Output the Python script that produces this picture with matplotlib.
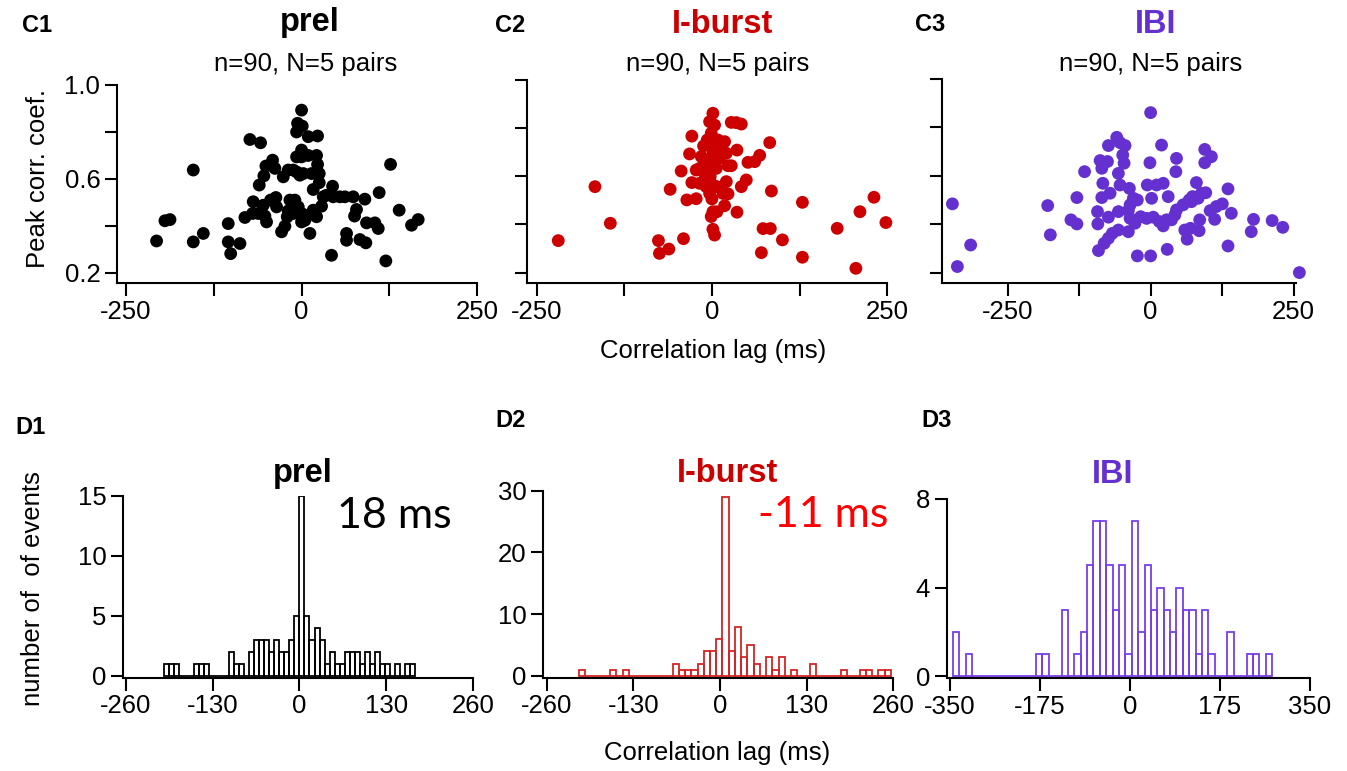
import numpy as np
import matplotlib
matplotlib.use('Agg')
from matplotlib import pyplot as plt

plt.rcParams['font.family'] = ['Liberation Sans', 'DejaVu Sans']
plt.rcParams['axes.unicode_minus'] = False

# C panels: peak correlation coefficient vs correlation lag (ms)
prel_lag = [-206.6, -194.7, -187.5, -154.3, -154.3, -140, -104.5, -104.5, -101, -87.8,
            -80.7, -73.6, -58.4, -68.9, -61.7, -54.6, -52.2, -49.9, -60.3, -53.7,
            -50.8, -41.3, -38, -36.6, -26.1, -20.4, -28.5, -23.7, -19, -16.6,
            -11.9, -12.8, -19, -7.1, -2.4, 0, -5.7, 1, -7.1, 9.5,
            22.8, 0, 0, 9.5, 21.4, 22.8, 2.4, 14.2, 25.2, 16.6,
            -4.7, 0, 0, 4.7, 9.5, 11.9, 21.4, 28.5, 30.9, 44.2,
            45.1, 54.6, 61.7, 73.6, 90.2, 75.5, 78.3, 64.1, 64.1, 83.1,
            91.6, 92.6, 104.5, 109.3, 110.6, 42.7, 120.1, 126.8, 139.1, 156.7,
            166.2, -69.8, -44.2, -35.6, -11.9, -9.5, 16.6, 25.2, -7.1, 35.0]
prel_coef = [0.336, 0.422, 0.427, 0.638, 0.332, 0.368, 0.41, 0.332, 0.282, 0.325,
             0.436, 0.768, 0.754, 0.503, 0.453, 0.488, 0.442, 0.417, 0.574, 0.613,
             0.655, 0.68, 0.645, 0.521, 0.609, 0.439, 0.375, 0.399, 0.638, 0.51,
             0.638, 0.493, 0.464, 0.63, 0.616, 0.893, 0.837, 0.825, 0.8, 0.78,
             0.783, 0.723, 0.694, 0.7, 0.7, 0.662, 0.623, 0.623, 0.584, 0.555,
             0.481, 0.453, 0.417, 0.424, 0.446, 0.368, 0.439, 0.484, 0.524, 0.569,
             0.524, 0.524, 0.524, 0.524, 0.514, 0.442, 0.47, 0.368, 0.339, 0.342,
             0.328, 0.413, 0.413, 0.389, 0.542, 0.275, 0.251, 0.662, 0.467, 0.403,
             0.427, 0.453, 0.51, 0.481, 0.453, 0.51, 0.467, 0.623, 0.694, 0.53]

burst_lag = [-219, -166.7, -144.8, -76.2, -74.8, -61.4, -59.5, -40.5, -43.8, -35.7,
             -22.4, -28.6, -31.9, -28.6, -17.6, -15.2, -11.9, -17.6, -10.5, -8.1,
             -3.3, 1.4, -3.3, 3.8, -1, -3.3, 3.8, 1.4, 6.2, -2.4,
             1.4, -3.3, 0, 10.9, 18.1, 20.5, 22.9, 27.6, 20.5, 22.9,
             18.1, 1.4, -1, 7.1, 1.4, 3.8, 27.6, 34.8, 41.9, 35.7,
             35.7, 41.9, 49, 51.4, 61, 68.1, 82.4, 84.8, 70.5, 72.9,
             83.3, 100.5, 129, 129, 178.6, 205.2, 211, 231, 248, -6.7,
             8.6, 13.3, -8.1, 7.1, -4.3, 10.9, -22.4, 15.7]
burst_coef = [0.333, 0.557, 0.405, 0.333, 0.28, 0.298, 0.546, 0.341, 0.622, 0.502,
              0.507, 0.574, 0.693, 0.767, 0.571, 0.682, 0.726, 0.633, 0.612, 0.647,
              0.668, 0.862, 0.827, 0.813, 0.779, 0.737, 0.723, 0.696, 0.633, 0.599,
              0.564, 0.529, 0.506, 0.723, 0.744, 0.696, 0.644, 0.644, 0.578, 0.527,
              0.478, 0.453, 0.433, 0.453, 0.38, 0.356, 0.824, 0.823, 0.817, 0.709,
              0.451, 0.557, 0.585, 0.658, 0.661, 0.687, 0.74, 0.539, 0.283, 0.383,
              0.383, 0.336, 0.492, 0.264, 0.384, 0.218, 0.453, 0.513, 0.408, 0.751,
              0.751, 0.696, 0.557, 0.557, 0.626, 0.675, 0.626, 0.529]

ibi_lag = [-346.3, -314.4, -337.6, -179.8, -175.2, -128.8, -139.2, -128.8, -115.4, -91.1,
           -81.2, -73.7, -67, -56.3, -92.2, -92.8, -85.3, -70.8, -83.5, -85.3,
           -88.2, -75.4, -73.7, -59.2, -53.4, -44.7, -48.7, -46.4, -56.3, -53.4,
           -73.7, -56.3, -37.1, -35.9, -30.2, -23.2, -38.9, -35.9, -27.3, -38.9,
           -23.2, 0, -1.2, -5.8, 10.4, 22, 1.7, -17.4, -7, 4.6,
           15.1, 22, 27.8, 36.5, 42.3, 45.2, 56.8, 67.3, 73.1, 83,
           88.7, 96.3, 80, 30.7, 19.1, 0, 29, 45.2, 44.1, 94.6,
           106.2, 94.6, 59.7, 63.8, 69.6, 85.8, 84.7, 104, 111.9, 125.3,
           135.2, 141, 135.2, 179.8, 175.8, 212.3, 230.9, 259.9, 114.8, 71.3]
ibi_coef = [0.484, 0.314, 0.225, 0.477, 0.356, 0.51, 0.418, 0.401, 0.617, 0.291,
            0.321, 0.342, 0.362, 0.376, 0.401, 0.452, 0.51, 0.528, 0.569, 0.631,
            0.663, 0.659, 0.725, 0.759, 0.737, 0.725, 0.686, 0.652, 0.61, 0.562,
            0.429, 0.452, 0.548, 0.48, 0.507, 0.5, 0.456, 0.424, 0.404, 0.369,
            0.269, 0.861, 0.654, 0.562, 0.562, 0.569, 0.507, 0.431, 0.424, 0.429,
            0.411, 0.393, 0.418, 0.418, 0.438, 0.459, 0.48, 0.5, 0.514, 0.507,
            0.528, 0.53, 0.572, 0.514, 0.727, 0.269, 0.296, 0.672, 0.617, 0.709,
            0.679, 0.654, 0.376, 0.338, 0.383, 0.418, 0.373, 0.456, 0.42, 0.484,
            0.546, 0.445, 0.31, 0.42, 0.369, 0.415, 0.387, 0.2, 0.473, 0.493]

# D panels: histograms of correlation lag, 50 bins each
prel_bins = (-202.5, 7.5)
prel_counts = [1, 1, 1, 0, 0, 0, 1, 1, 1, 0,
               0, 0, 0, 2, 1, 1, 0, 2, 3, 3,
               3, 2, 3, 2, 2, 3, 5, 15, 5, 3,
               4, 3, 1, 2, 1, 1, 2, 2, 2, 1,
               2, 1, 2, 1, 1, 0, 1, 0, 1, 1]
burst_bins = (-211.5, 9.36)
burst_counts = [1, 0, 0, 0, 0, 1, 0, 1, 0, 0,
                0, 0, 0, 0, 0, 2, 1, 1, 1, 2,
                4, 4, 6, 29, 4, 8, 3, 5, 2, 0,
                3, 1, 3, 0, 1, 0, 0, 2, 0, 0,
                0, 0, 1, 0, 0, 1, 1, 0, 1, 1]
ibi_bins = (-343.6, 12.4)
ibi_counts = [2, 0, 1, 0, 0, 0, 0, 0, 0, 0,
              0, 0, 0, 1, 1, 0, 0, 3, 0, 1,
              2, 5, 7, 7, 5, 3, 5, 1, 7, 2,
              5, 3, 4, 3, 2, 4, 3, 3, 1, 3,
              1, 0, 0, 2, 0, 0, 1, 1, 0, 1]

black = '#000000'
red = '#CC0000'
purple = '#6530D0'

W, H = 1347, 771
fig = plt.figure(figsize=(W / 100, H / 100), dpi=100)


def add_ax(l, t, r, b):
    return fig.add_axes([l / W, 1 - b / H, (r - l) / W, (b - t) / H])


def style(ax):
    for s in ['top', 'right']:
        ax.spines[s].set_visible(False)
    for s in ['left', 'bottom']:
        ax.spines[s].set_linewidth(1.5)
    ax.tick_params(direction='out', length=9, width=1.5, labelsize=18.5, pad=3)


def txt(x, y, s, **kw):
    fig.text(x / W, 1 - y / H, s, **kw)


# ---- C row: scatter plots
c_axes = [add_ax(117, 85, 477, 283), add_ax(526.7, 80, 887.3, 283), add_ax(941.7, 79, 1296, 283)]
c_xlims = [(-263, 250), (-264, 249), (-365, 254)]
c_data = [(prel_lag, prel_coef, black), (burst_lag, burst_coef, red), (ibi_lag, ibi_coef, purple)]
for i, ax in enumerate(c_axes):
    lag, coef, col = c_data[i]
    ax.scatter(lag, coef, s=85, color=col, edgecolors='none', clip_on=False, zorder=3)
    style(ax)
    ax.set_xlim(*c_xlims[i])
    ax.set_ylim(0.157, 1.0)
    ax.set_xticks([-250, -125, 0, 125, 250])
    ax.set_xticklabels(['-250', '', '0', '', '250'])
    ax.set_yticks([0.2, 0.4, 0.6, 0.8, 1.0])
    if i == 0:
        ax.set_yticklabels(['0.2', '', '0.6', '', '1.0'])
    else:
        ax.set_yticklabels([''] * 5)

# ---- D row: histograms
d_axes = [add_ax(123.3, 495.7, 473, 677.7), add_ax(543.3, 490.7, 893.3, 677.7), add_ax(946.7, 499, 1310, 678.3)]
d_data = [(prel_bins, prel_counts, black), (burst_bins, burst_counts, '#D42424'), (ibi_bins, ibi_counts, '#7A3EE8')]
d_xlims = [(-264, 260), (-265, 260), (-356, 350)]
d_ylims = [(-0.15, 15), (-0.28, 30), (-0.1, 8)]
d_xticks = [[-260, -130, 0, 130, 260], [-260, -130, 0, 130, 260], [-350, -175, 0, 175, 350]]
d_yticks = [[0, 5, 10, 15], [0, 10, 20, 30], [0, 4, 8]]
for i, ax in enumerate(d_axes):
    (start, width), counts, col = d_data[i]
    edges = start + width * np.arange(len(counts))
    ax.bar(edges, counts, width=width, align='edge', fill=False, edgecolor=col, linewidth=1.3)
    style(ax)
    ax.set_xlim(*d_xlims[i])
    ax.set_ylim(*d_ylims[i])
    ax.set_xticks(d_xticks[i])
    ax.set_xticklabels([str(v) for v in d_xticks[i]])
    ax.set_yticks(d_yticks[i])

# ---- text
for lab, x, y in [('C1', 22, 31.7), ('C2', 495, 32.3), ('C3', 915, 30.7),
                  ('D1', 15, 434.3), ('D2', 495, 427.3), ('D3', 921.7, 427.3)]:
    txt(x, y, lab, fontsize=17, fontweight='bold', ha='left', va='baseline')

for s, x, y, col in [('prel', 310, 30.7, black), ('I-burst', 723, 32.7, red), ('IBI', 1155.7, 32.7, purple),
                     ('prel', 302.5, 482.3, black), ('I-burst', 727.5, 482.3, red), ('IBI', 1113, 482.7, purple)]:
    txt(x, y, s, fontsize=23.5, fontweight='bold', color=col, ha='center', va='baseline')

for x in [305.7, 718, 1151]:
    txt(x, 70.7, 'n=90, N=5 pairs', fontsize=18.5, ha='center', va='baseline')

txt(37.7, 179, 'Peak corr. coef.', fontsize=18.5, rotation=90, ha='center', va='center')
txt(713, 351, 'Correlation lag (ms)', fontsize=18.5, ha='center', va='center')
txt(33, 589, 'number of  of events', fontsize=18.5, rotation=90, ha='center', va='center')
txt(716.7, 753, 'Correlation lag (ms)', fontsize=18.5, ha='center', va='center')

txt(337, 527.7, '18 ms', fontsize=31, family=['Lato', 'DejaVu Sans'], ha='left', va='baseline')
txt(758, 526.7, '-11 ms', fontsize=31, family=['Lato', 'DejaVu Sans'], color='#FF0000', ha='left', va='baseline')

fig.savefig('out.png', dpi=100)
